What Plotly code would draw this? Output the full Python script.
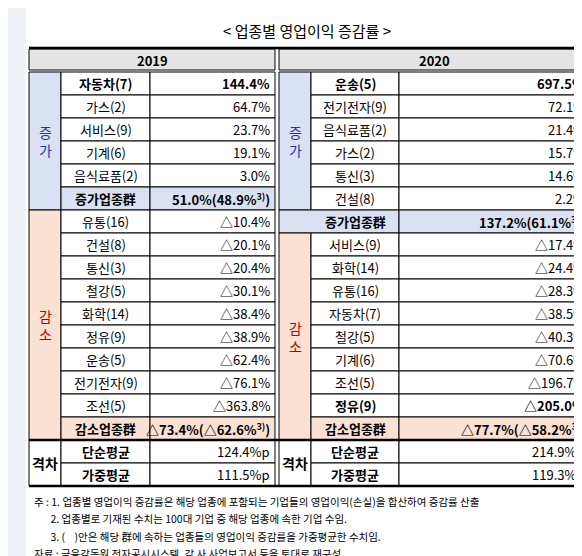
import plotly.graph_objects as go

# 2019
inc19_names = ['자동차(7)', '가스(2)', '서비스(9)', '기계(6)', '음식료품(2)']
inc19_vals = ['144.4%', '64.7%', '23.7%', '19.1%', '3.0%']
inc19_sum = '51.0%(48.9%<sup>3)</sup>)'
dec19_names = ['유통(16)', '건설(8)', '통신(3)', '철강(5)', '화학(14)', '정유(9)', '운송(5)', '전기전자(9)', '조선(5)']
dec19_vals = ['△10.4%', '△20.1%', '△20.4%', '△30.1%', '△38.4%', '△38.9%', '△62.4%', '△76.1%', '△363.8%']
dec19_sum = '△73.4%(△62.6%<sup>3)</sup>)'
gap19 = ['124.4%p', '111.5%p']
# 2020
inc20_names = ['운송(5)', '전기전자(9)', '음식료품(2)', '가스(2)', '통신(3)', '건설(8)']
inc20_vals = ['697.5%', '72.1%', '21.4%', '15.7%', '14.6%', '2.2%']
inc20_sum = '137.2%(61.1%<sup>3)</sup>)'
dec20_names = ['서비스(9)', '화학(14)', '유통(16)', '자동차(7)', '철강(5)', '기계(6)', '조선(5)', '정유(9)']
dec20_vals = ['△17.4%', '△24.4%', '△28.3%', '△38.5%', '△40.3%', '△70.6%', '△196.7%', '△205.0%']
dec20_sum = '△77.7%(△58.2%<sup>3)</sup>)'
gap20 = ['214.9%p', '119.3%p']
gap_names = ['단순평균', '가중평균']
notes = ['주 : 1. 업종별 영업이익 증감률은 해당 업종에 포함되는 기업들의 영업이익(손실)을 합산하여 증감률 산출',
         '       2. 업종별로 기재된 수치는 100대 기업 중 해당 업종에 속한 기업 수임.',
         '       3. (    )안은 해당 群에 속하는 업종들의 영업이익 증감률을 가중평균한 수치임.',
         '자료 : 금융감독원 전자공시시스템, 각 사 사업보고서 등을 토대로 재구성']

FONT = 'Noto Sans CJK KR'
BLUE_BG, PEACH_BG, GREY_BG = '#dae1f2', '#fbe1d2', '#e4e4e4'
shapes = [dict(type='rect', x0=10, x1=578, y0=-8, y1=548, fillcolor='white', line=dict(width=0), layer='below')]
ann = []

def rect(x0, y0, x1, y1, fill='white', lw=1):
    shapes.append(dict(type='rect', x0=x0, y0=y0, x1=x1, y1=y1, fillcolor=fill,
                       line=dict(color='black', width=lw), layer='below'))

def text(x, y, s, anchor='center', bold=False, color='black', size=13):
    if bold:
        s = '<b>' + s + '</b>'
    ann.append(dict(x=x, y=y, text=s, showarrow=False, xanchor=anchor, yanchor='middle',
                    font=dict(family=FONT, size=size, color=color)))

RH = 23
TOP = 56

def block(cols, inc_names, inc_vals, inc_sum, dec_names, dec_vals, dec_sum, gap, bold_last):
    g0, n0, v0, v1 = cols
    y = TOP
    five = len(inc_names) == 5
    rect(g0, y, n0, y + RH * (len(inc_names) + (1 if five else 0)), BLUE_BG)
    for i, (n, v) in enumerate(zip(inc_names, inc_vals)):
        rect(n0, y, v0, y + RH); rect(v0, y, v1, y + RH)
        text((n0 + v0) / 2, y + RH / 2, n, bold=(i == 0))
        text(v1 - 3, y + RH / 2, v, 'right', bold=(i == 0))
        y += RH
    if five:
        rect(n0, y, v0, y + RH, BLUE_BG)
        ginc_mid = (TOP + y + RH) / 2
    else:
        rect(g0, y, v0, y + RH, BLUE_BG)
        ginc_mid = (TOP + y) / 2
    rect(v0, y, v1, y + RH, BLUE_BG)
    text((n0 + v0) / 2, y + RH / 2, '증가업종群', bold=True)
    text(v1 - 3, y + RH / 2, inc_sum, 'right', bold=True)
    text((g0 + n0) / 2, ginc_mid, '증<br>가', color='#1a3aa8', size=14)
    y += RH
    d0 = y
    n_dec = len(dec_names)
    rect(g0, y, n0, y + RH * (n_dec + 1), PEACH_BG)
    for i, (n, v) in enumerate(zip(dec_names, dec_vals)):
        b = bold_last and i == n_dec - 1
        rect(n0, y, v0, y + RH); rect(v0, y, v1, y + RH)
        text((n0 + v0) / 2, y + RH / 2, n, bold=b)
        text(v1 - 3, y + RH / 2, v, 'right', bold=b)
        y += RH
    rect(n0, y, v0, y + RH, PEACH_BG); rect(v0, y, v1, y + RH, PEACH_BG)
    text((n0 + v0) / 2, y + RH / 2, '감소업종群', bold=True)
    text(v1 - 3, y + RH / 2, dec_sum, 'right', bold=True)
    text((g0 + n0) / 2, (d0 + y + RH) / 2, '감<br>소', color='#c00000', size=14)
    y += RH
    g_top = y
    rect(g0, y, n0, y + 2 * RH)
    for n, v in zip(gap_names, gap):
        rect(n0, y, v0, y + RH); rect(v0, y, v1, y + RH)
        text((n0 + v0) / 2, y + RH / 2, n, bold=True)
        text(v1 - 3, y + RH / 2, v, 'right')
        y += RH
    text((g0 + n0) / 2, g_top + RH, '격차', bold=True, size=14)
    return g_top, y

L = (13, 45, 134, 259)
R = (263, 295, 383, 574)
rect(L[0], 33, L[3], 54, GREY_BG); rect(R[0], 33, R[3], 54, GREY_BG)
text((L[0] + L[3]) / 2, 44, '2019', bold=True)
text((R[0] + R[3]) / 2, 44, '2020', bold=True)
g_top, bottom = block(L, inc19_names, inc19_vals, inc19_sum, dec19_names, dec19_vals, dec19_sum, gap19, False)
block(R, inc20_names, inc20_vals, inc20_sum, dec20_names, dec20_vals, dec20_sum, gap20, True)
for yy in (32, g_top, bottom):
    shapes.append(dict(type='line', x0=13, x1=574, y0=yy, y1=yy, line=dict(color='black', width=2.5)))

text(291, 14, '&lt; 업종별 영업이익 증감률 &gt;', size=15)
for i, s in enumerate(notes):
    text(16, 485 + i * 17.5, s, 'left', size=10.5)

fig = go.Figure()
fig.update_layout(width=582, height=556, margin=dict(l=0, r=0, t=0, b=0),
                  paper_bgcolor='#eef2f7', plot_bgcolor='#eef2f7', shapes=shapes, annotations=ann,
                  xaxis=dict(range=[-8, 574], visible=False, fixedrange=True),
                  yaxis=dict(range=[548, -8], visible=False, fixedrange=True))
fig.write_html('out.html')
